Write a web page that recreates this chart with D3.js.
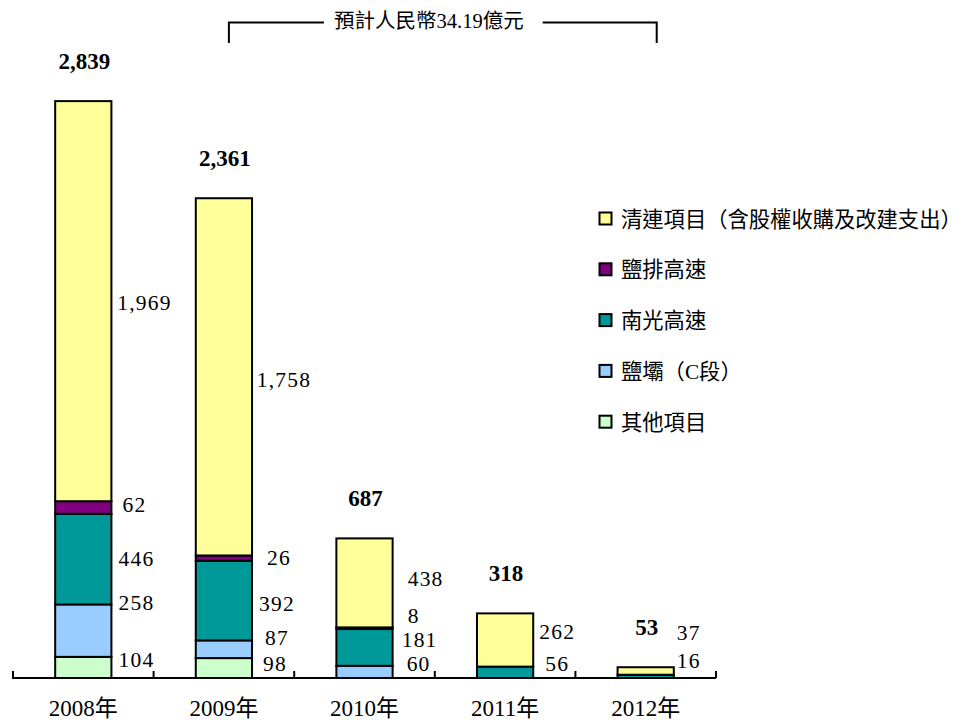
<!DOCTYPE html>
<html>
<head>
<meta charset="utf-8">
<script src="https://cdn.jsdelivr.net/npm/d3@7"></script>
<style>
  html, body { margin: 0; padding: 0; background: #ffffff; }
  svg { display: block; }
  text { font-family: "Liberation Serif", "Times New Roman", "Noto Sans CJK TC", serif; fill: #000; }
</style>
</head>
<body>
<svg id="chart" width="967" height="720"></svg>
<script>
// ---- data ----
const years = ["2008年", "2009年", "2010年", "2011年", "2012年"];
const seriesNames = ["其他項目", "鹽壩（C段）", "南光高速", "鹽排高速", "清連項目（含股權收購及改建支出）"];
const otherValues     = [104, 98, 0, 0, 0];
const yanbaValues     = [258, 87, 60, 0, 0];
const nanguangValues  = [446, 392, 181, 56, 16];
const yanpaiValues    = [62, 26, 8, 0, 0];
const qinglianValues  = [1969, 1758, 438, 262, 37];
const totals          = [2839, 2361, 687, 318, 53];
const bracketLabel    = "預計人民幣34.19億元";
const seriesColors    = ["#CCFFCC", "#99CCFF", "#009999", "#800080", "#FFFF99"];

// label nudges (layout only): [dx, dy] in px, per year per series
const labelNudge = [
  [[0,-8],[0,-28],[0,-1],[-2,-3],[8,1]],
  [[-2,-5],[0,-12],[0,3],[2,-1],[7,3]],
  [[0,0],[1,-8],[2,-8],[-4,-13],[8,-4]],
  [[0,0],[0,0],[-1,-9],[0,0],[-1,-9]],
  [[0,0],[0,0],[-10,-16],[0,0],[-10,-39]]
];

const seriesValues = [otherValues, yanbaValues, nanguangValues, yanpaiValues, qinglianValues];
const table = years.map((y, i) => {
  const row = { year: y, idx: i };
  seriesNames.forEach((s, k) => row[s] = seriesValues[k][i]);
  return row;
});

const svg = d3.select("#chart");
const baseY = 678;

const x = d3.scaleBand().domain(years).range([13, 716]).paddingInner(0.6).paddingOuter(0.3);
const y = d3.scaleLinear().domain([0, 3000]).range([baseY, baseY - 3000 * 0.2032]);

const stack = d3.stack().keys(seriesNames);
const stacked = stack(table);

// bars
const gBars = svg.append("g");
stacked.forEach((layer, k) => {
  gBars.selectAll(null)
    .data(layer.filter(d => d[1] - d[0] > 0))
    .enter().append("rect")
    .attr("x", d => x(d.data.year))
    .attr("width", x.bandwidth())
    .attr("y", d => y(d[1]))
    .attr("height", d => y(d[0]) - y(d[1]))
    .attr("fill", seriesColors[k])
    .attr("stroke", "#000")
    .attr("stroke-width", 2);
});

// segment labels
stacked.forEach((layer, k) => {
  layer.forEach(d => {
    const v = d[1] - d[0];
    if (v <= 0) return;
    const i = d.data.idx;
    const n = labelNudge[i][k];
    const cx = x(d.data.year) + x.bandwidth() + 25 + n[0];
    const cy = (y(d[0]) + y(d[1])) / 2 + n[1];
    svg.append("text")
      .attr("x", cx).attr("y", cy).attr("dy", "0.35em")
      .attr("text-anchor", "middle")
      .attr("font-size", 21.5)
      .attr("letter-spacing", 1.2)
      .text(d3.format(",")(v));
  });
});

// totals
svg.selectAll(null).data(totals).enter().append("text")
  .attr("x", (d, i) => x(years[i]) + x.bandwidth() / 2 + 1)
  .attr("y", d => y(d) - 32)
  .attr("text-anchor", "middle")
  .attr("font-size", 23)
  .attr("font-weight", "bold")
  .text(d => d3.format(",")(d));

// axis
const step = x.step();
const left = x(years[0]) - step * x.paddingOuter();
const axisG = svg.append("g");
axisG.append("line")
  .attr("x1", left - 1).attr("x2", left + step * years.length)
  .attr("y1", baseY).attr("y2", baseY)
  .attr("stroke", "#000").attr("stroke-width", 2);
d3.range(years.length + 1).forEach(k => {
  axisG.append("line")
    .attr("x1", left + k * step).attr("x2", left + k * step)
    .attr("y1", baseY).attr("y2", baseY - 7)
    .attr("stroke", "#000").attr("stroke-width", 2);
});
axisG.selectAll(null).data(years).enter().append("text")
  .attr("x", d => x(d) + x.bandwidth() / 2)
  .attr("y", 716)
  .attr("text-anchor", "middle")
  .attr("font-size", 23)
  .text(d => d);

// bracket
const bx1 = x(years[1]) + x.bandwidth() / 2 + 5;
const bx2 = x(years[4]) + x.bandwidth() / 2 + 11;
const by = 22.5;
const bracket = svg.append("g").attr("stroke", "#000").attr("stroke-width", 2).attr("fill", "none");
bracket.append("path").attr("d", `M${bx1},43 V${by} H${bx1 + 95}`);
bracket.append("path").attr("d", `M${bx2 - 114},${by} H${bx2} V43`);
svg.append("text")
  .attr("x", bx1 + 200).attr("y", 21).attr("dy", "0.35em")
  .attr("text-anchor", "middle")
  .attr("font-size", 20.5)
  .text(bracketLabel);

// legend (top to bottom: reverse of stack)
const legendOrder = d3.range(seriesNames.length).reverse();
const lg = svg.append("g");
legendOrder.forEach((k, r) => {
  const cy = 219 + r * 50.8;
  lg.append("rect")
    .attr("x", 599.5).attr("y", cy - 6.5).attr("width", 12).attr("height", 12)
    .attr("fill", seriesColors[k]).attr("stroke", "#000").attr("stroke-width", 2);
  lg.append("text")
    .attr("x", 621).attr("y", cy).attr("dy", "0.36em")
    .attr("font-size", 21.3)
    .text(seriesNames[k]);
});
</script>
</body>
</html>
